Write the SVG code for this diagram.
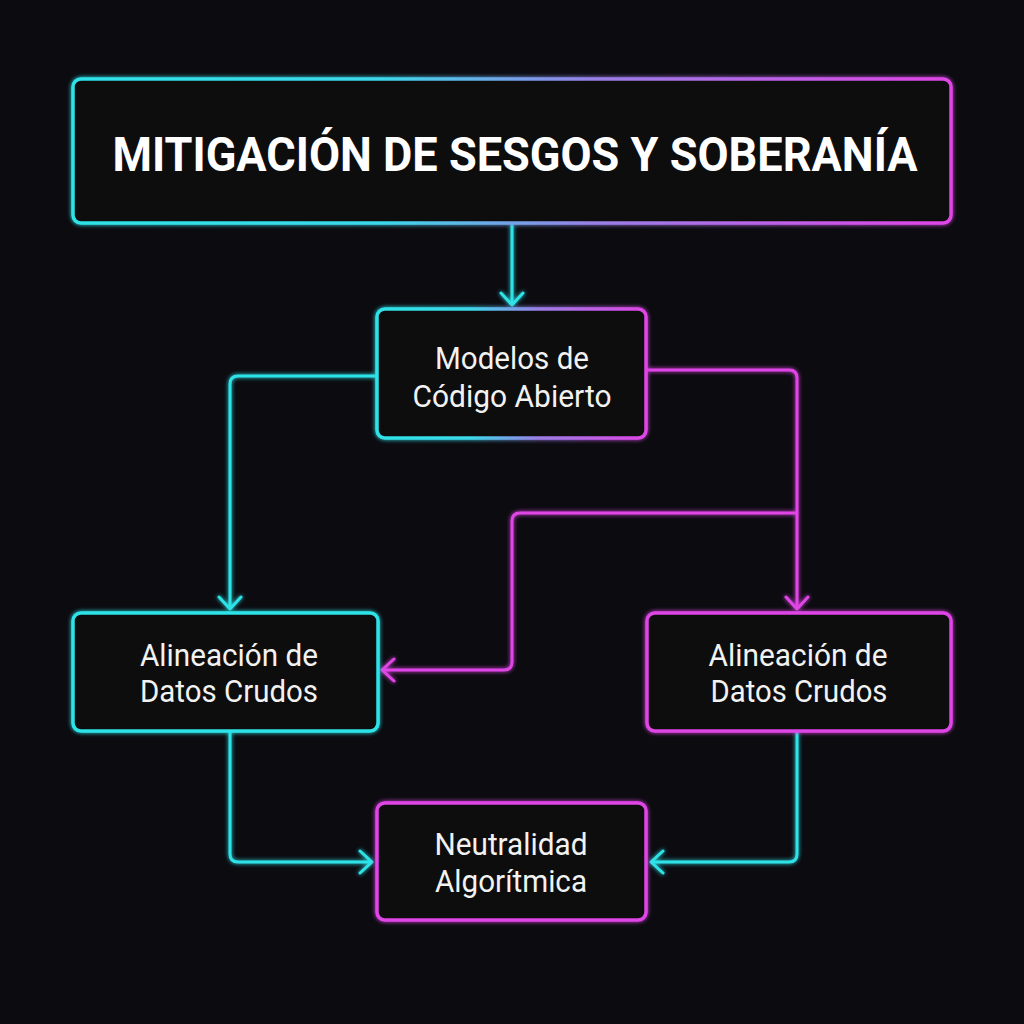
<svg xmlns="http://www.w3.org/2000/svg" width="1024" height="1024" viewBox="0 0 1024 1024">
  <defs>
    <linearGradient id="gradH" x1="0" y1="0" x2="1" y2="0">
      <stop offset="0" stop-color="#2ee3e8"/>
      <stop offset="0.35" stop-color="#3cd8ea"/>
      <stop offset="0.6" stop-color="#9a7ee6"/>
      <stop offset="1" stop-color="#e045e6"/>
    </linearGradient>
    <filter id="glow" x="-20%" y="-20%" width="140%" height="140%">
      <feGaussianBlur in="SourceGraphic" stdDeviation="2" result="b"/>
      <feMerge>
        <feMergeNode in="b"/>
        <feMergeNode in="SourceGraphic"/>
      </feMerge>
    </filter>
    <marker id="arrC" viewBox="0 0 16 26" refX="14" refY="13" markerWidth="16" markerHeight="26" markerUnits="userSpaceOnUse" orient="auto">
      <path d="M2,2 L14,13 L2,24" fill="none" stroke="#2ee3e8" stroke-width="3" stroke-linecap="round" stroke-linejoin="round"/>
    </marker>
    <marker id="arrM" viewBox="0 0 16 26" refX="14" refY="13" markerWidth="16" markerHeight="26" markerUnits="userSpaceOnUse" orient="auto">
      <path d="M2,2 L14,13 L2,24" fill="none" stroke="#e045e6" stroke-width="3" stroke-linecap="round" stroke-linejoin="round"/>
    </marker>
  </defs>
  <style>
    .box { fill: #0b0b10; stroke-width: 3.5; }
    .grad { stroke: url(#gradH); }
    .cyan { stroke: #2ee3e8; }
    .mag { stroke: #e045e6; }
    .lbl { font-family: Roboto, "Liberation Sans", sans-serif; font-size: 31px; fill: #f2f2f2; text-anchor: middle; }
    .title { font-family: Roboto, "Liberation Sans", sans-serif; font-size: 48px; font-weight: bold; fill: #ffffff; text-anchor: middle; }
    .con { fill: none; stroke-width: 3; stroke-linejoin: round; }
  </style>
  <rect width="1024" height="1024" fill="#0b0b10"/>

  <g id="connectors" filter="url(#glow)">
    <path class="con cyan" d="M512 224 V305" marker-end="url(#arrC)"/>
    <path class="con cyan" d="M377 376 H238 Q230 376 230 384 V609" marker-end="url(#arrC)"/>
    <path class="con mag" d="M647 370 H789 Q797 370 797 378 V609" marker-end="url(#arrM)"/>
    <path class="con mag" d="M797 513 H520 Q512 513 512 521 V662 Q512 670 504 670 H382" marker-end="url(#arrM)"/>
    <path class="con cyan" d="M230 731 V854 Q230 862 238 862 H372" marker-end="url(#arrC)"/>
    <path class="con cyan" d="M797 731 V854 Q797 862 789 862 H651" marker-end="url(#arrC)"/>
  </g>

  <g id="title">
    <rect class="box grad" x="73" y="79" width="878" height="144" rx="8" filter="url(#glow)"/>
    <text class="title" x="515" y="171" textLength="805" lengthAdjust="spacingAndGlyphs">MITIGACIÓN DE SESGOS Y SOBERANÍA</text>
  </g>

  <g id="modelos">
    <rect class="box grad" x="377" y="309" width="269" height="129" rx="8" filter="url(#glow)"/>
    <text class="lbl" x="512" y="369" textLength="154" lengthAdjust="spacingAndGlyphs">Modelos de</text>
    <text class="lbl" x="512" y="407" textLength="199" lengthAdjust="spacingAndGlyphs">Código Abierto</text>
  </g>

  <g id="alineacion-izq">
    <rect class="box cyan" x="73" y="613" width="305" height="118" rx="8" filter="url(#glow)"/>
    <text class="lbl" x="229" y="666" textLength="178" lengthAdjust="spacingAndGlyphs">Alineación de</text>
    <text class="lbl" x="229" y="702" textLength="178" lengthAdjust="spacingAndGlyphs">Datos Crudos</text>
  </g>

  <g id="alineacion-der">
    <rect class="box mag" x="647" y="613" width="304" height="118" rx="8" filter="url(#glow)"/>
    <text class="lbl" x="798" y="666" textLength="179" lengthAdjust="spacingAndGlyphs">Alineación de</text>
    <text class="lbl" x="799" y="702" textLength="177" lengthAdjust="spacingAndGlyphs">Datos Crudos</text>
  </g>

  <g id="neutralidad">
    <rect class="box mag" x="377" y="803" width="269" height="117" rx="8" filter="url(#glow)"/>
    <text class="lbl" x="511" y="855" textLength="153" lengthAdjust="spacingAndGlyphs">Neutralidad</text>
    <text class="lbl" x="511" y="892" textLength="152" lengthAdjust="spacingAndGlyphs">Algorítmica</text>
  </g>
</svg>
